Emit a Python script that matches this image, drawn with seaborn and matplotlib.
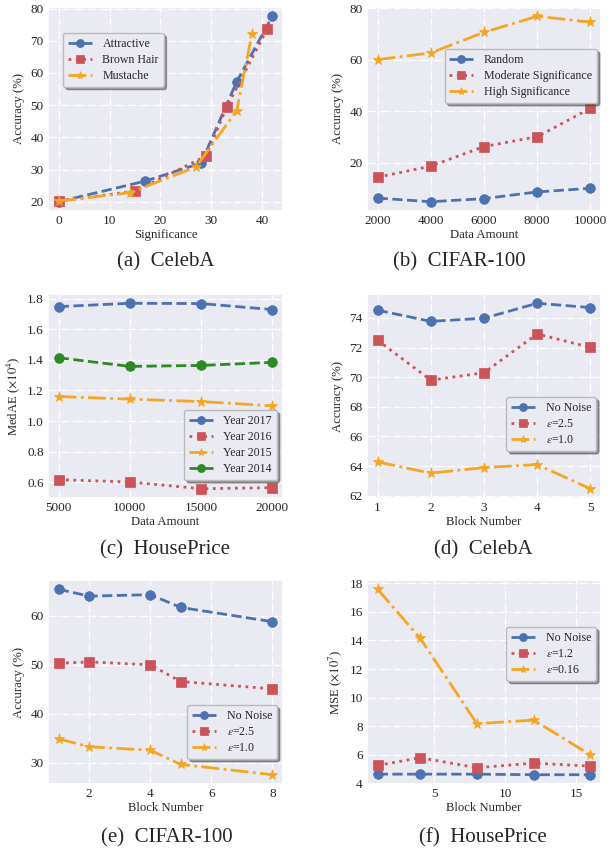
import matplotlib
matplotlib.use("Agg")
import matplotlib.pyplot as plt
import seaborn as sns

sns.set_theme(style="darkgrid", rc={"grid.linestyle": "-.", "grid.linewidth": 0.9})
plt.rcParams['font.family'] = ['Liberation Serif', 'DejaVu Serif']
plt.rcParams['mathtext.fontset'] = 'stix'

BLUE = "#4C72B0"
RED = "#CC5458"
ORANGE = "#F5A623"
GREEN = "#2D8A22"

# (a) CelebA - significance
a_attr_x = [0, 17, 28, 35, 42]
a_attr_y = [20.0, 26.4, 32.0, 57.3, 77.6]
a_brown_x = [0, 15, 29, 33, 41]
a_brown_y = [20.2, 23.3, 34.2, 49.3, 73.7]
a_must_x = [0, 14, 27, 35, 38]
a_must_y = [20.2, 22.8, 30.8, 48.3, 72.2]

# (b) CIFAR-100 - data amount
b_x = [2000, 4000, 6000, 8000, 10000]
b_random = [6.3, 4.9, 6.1, 8.7, 10.1]
b_moderate = [14.4, 18.7, 26.3, 30.1, 41.1]
b_high = [60.0, 62.6, 70.6, 76.8, 74.5]

# (c) HousePrice - data amount
c_x = [5000, 10000, 15000, 20000]
c_2017 = [1.747, 1.769, 1.767, 1.728]
c_2016 = [0.617, 0.602, 0.558, 0.565]
c_2015 = [1.160, 1.143, 1.127, 1.099]
c_2014 = [1.413, 1.357, 1.363, 1.383]

# (d) CelebA - block number
d_x = [1, 2, 3, 4, 5]
d_none = [74.52, 73.77, 73.98, 74.99, 74.70]
d_eps25 = [72.49, 69.80, 70.30, 72.92, 72.01]
d_eps10 = [64.28, 63.52, 63.90, 64.10, 62.47]

# (e) CIFAR-100 - block number
e_x = [1, 2, 4, 5, 8]
e_none = [65.4, 64.0, 64.3, 61.7, 58.8]
e_eps25 = [50.3, 50.6, 50.0, 46.6, 45.1]
e_eps10 = [34.9, 33.3, 32.6, 29.7, 27.6]

# (f) HousePrice - block number
f_x = [1, 4, 8, 12, 16]
f_none = [4.65, 4.65, 4.65, 4.61, 4.61]
f_eps12 = [5.26, 5.80, 5.10, 5.42, 5.21]
f_eps016 = [17.58, 14.15, 8.18, 8.43, 6.00]

captions = ["(a)  CelebA", "(b)  CIFAR-100", "(c)  HousePrice",
            "(d)  CelebA", "(e)  CIFAR-100", "(f)  HousePrice"]

STY = {
    "blue": dict(color=BLUE, linestyle="--", marker="o"),
    "red": dict(color=RED, linestyle=":", marker="s"),
    "orange": dict(color=ORANGE, linestyle="-.", marker="*"),
    "green": dict(color=GREEN, linestyle="--", marker="o"),
}


def draw(ax, x, y, kind, label):
    st = STY[kind]
    ms = 8 if st["marker"] == "*" else 7
    sns.lineplot(x=x, y=y, ax=ax, label=label, color=st["color"],
                 linestyle=st["linestyle"], marker=st["marker"],
                 markersize=ms, linewidth=2, markeredgewidth=0.5,
                 markeredgecolor=st["color"])


fig = plt.figure(figsize=(6.16, 8.52), dpi=100)
W, H = 616, 852
boxes = [(48, 7, 283, 211), (367, 7, 601, 211),
         (48, 294, 283, 498), (367, 294, 601, 498),
         (48, 580, 283, 784), (367, 580, 601, 784)]
axes = []
for l, t, r, b in boxes:
    axes.append(fig.add_axes([l / W, 1 - b / H, (r - l) / W, (b - t) / H]))

TICK = 9.5
LAB = 9.2
LEG = 8.6

# (a)
ax = axes[0]
draw(ax, a_attr_x, a_attr_y, "blue", "Attractive")
draw(ax, a_brown_x, a_brown_y, "red", "Brown Hair")
draw(ax, a_must_x, a_must_y, "orange", "Mustache")
ax.set_xticks([0, 10, 20, 30, 40])
ax.set_yticks([20, 30, 40, 50, 60, 70, 80])
ax.set_xlabel("Significance")
ax.set_ylabel("Accuracy (%)")
ax.legend(loc="upper left", bbox_to_anchor=(0.064, 0.873), borderaxespad=0)

# (b)
ax = axes[1]
draw(ax, b_x, b_random, "blue", "Random")
draw(ax, b_x, b_moderate, "red", "Moderate Significance")
draw(ax, b_x, b_high, "orange", "High Significance")
ax.set_xticks(b_x)
ax.set_yticks([20, 40, 60, 80])
ax.set_xlabel("Data Amount")
ax.set_ylabel("Accuracy (%)")
ax.legend(loc="upper right", bbox_to_anchor=(0.983, 0.794), borderaxespad=0)

# (c)
ax = axes[2]
draw(ax, c_x, c_2017, "blue", "Year 2017")
draw(ax, c_x, c_2016, "red", "Year 2016")
draw(ax, c_x, c_2015, "orange", "Year 2015")
draw(ax, c_x, c_2014, "green", "Year 2014")
ax.set_xticks(c_x)
ax.set_yticks([0.6, 0.8, 1.0, 1.2, 1.4, 1.6, 1.8])
ax.set_xlabel("Data Amount")
ax.set_ylabel(r"MedAE ($\times10^4$)")
ax.legend(loc="lower right", bbox_to_anchor=(0.974, 0.088), borderaxespad=0)

# (d)
ax = axes[3]
draw(ax, d_x, d_none, "blue", "No Noise")
draw(ax, d_x, d_eps25, "red", r"$\varepsilon$=2.5")
draw(ax, d_x, d_eps10, "orange", r"$\varepsilon$=1.0")
ax.set_xticks(d_x)
ax.set_yticks([62, 64, 66, 68, 70, 72, 74])
ax.set_xlabel("Block Number")
ax.set_ylabel("Accuracy (%)")
ax.legend(loc="lower right", bbox_to_anchor=(0.979, 0.23), borderaxespad=0)

# (e)
ax = axes[4]
draw(ax, e_x, e_none, "blue", "No Noise")
draw(ax, e_x, e_eps25, "red", r"$\varepsilon$=2.5")
draw(ax, e_x, e_eps10, "orange", r"$\varepsilon$=1.0")
ax.set_xticks([2, 4, 6, 8])
ax.set_yticks([30, 40, 50, 60])
ax.set_xlabel("Block Number")
ax.set_ylabel("Accuracy (%)")
ax.legend(loc="lower right", bbox_to_anchor=(0.974, 0.123), borderaxespad=0)

# (f)
ax = axes[5]
draw(ax, f_x, f_none, "blue", "No Noise")
draw(ax, f_x, f_eps12, "red", r"$\varepsilon$=1.2")
draw(ax, f_x, f_eps016, "orange", r"$\varepsilon$=0.16")
ax.set_xticks([5, 10, 15])
ax.set_yticks([4, 6, 8, 10, 12, 14, 16, 18])
ax.set_xlabel("Block Number")
ax.set_ylabel(r"MSE ($\times10^7$)")
ax.legend(loc="upper right", bbox_to_anchor=(0.979, 0.77), borderaxespad=0)

for ax in axes:
    ax.tick_params(labelsize=TICK, length=0, pad=3)
    ax.xaxis.label.set_size(LAB)
    ax.yaxis.label.set_size(LAB)
    ax.xaxis.labelpad = 1
    ax.yaxis.labelpad = 4

    # rebuild the legend with the paper's look (shadow, compact rows)
    leg = ax.get_legend()
    handles = leg.legend_handles
    labels = [t.get_text() for t in leg.get_texts()]
    loc = leg._loc
    anchor = leg.get_bbox_to_anchor().transformed(ax.transAxes.inverted())
    new = ax.legend(handles, labels, loc=loc, bbox_to_anchor=(anchor.x0, anchor.y0),
                    borderaxespad=0, fontsize=LEG, handlelength=2.0, labelspacing=0.35,
                    shadow=True, frameon=True, handletextpad=0.9)
    new.get_frame().set_edgecolor("#BBBBBB")
    new.get_frame().set_facecolor("#EAEAF2")
    for h in new.legend_handles:
        h.set_markersize(6 if h.get_marker() == "*" else 5.8)

cap_pos = [(166, 262), (459, 262), (165, 550), (483, 550), (167, 838), (483, 838)]
for (cx, cy), cap in zip(cap_pos, captions):
    fig.text(cx / W, 1 - cy / H, cap, ha="center", va="center", fontsize=15)

fig.savefig("out.png", dpi=100)
